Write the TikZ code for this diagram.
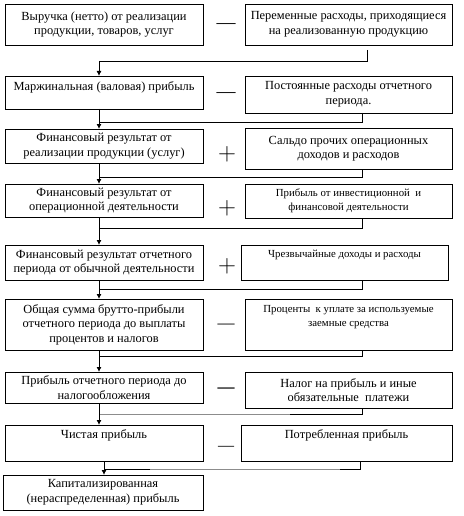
\documentclass[tikz,border=0pt]{standalone}
\usepackage{fontspec}
\setmainfont{Liberation Serif}
\usetikzlibrary{arrows.meta,calc}
\begin{document}
\begin{tikzpicture}[x=1pt,y=-1pt,
  box/.style={draw, line width=0.9pt, inner sep=0pt, outer sep=0pt, align=center,
    font=\fontsize{12.4}{14.5}\selectfont},
  small/.style={font=\fontsize{10.8}{13.5}\selectfont},
  lbox/.style={box, minimum width=198pt},
  conn/.style={line width=0.9pt},
  faint/.style={line width=0.9pt, black!45},
  arr/.style={conn, -{Latex[length=5pt,width=5pt]}},
  minus/.style={inner sep=0pt, font=\fontsize{19}{19}\selectfont},
  bminus/.style={inner sep=0pt, font=\fontsize{17}{17}\selectfont\bfseries},
  plus/.style={inner sep=0pt, font=\fontsize{27}{27}\selectfont}]
\useasboundingbox (0,0) rectangle (463,516);

% left column
\node[lbox, minimum height=41pt] (L1) at (104,24.5) {Выручка (нетто) от реализации\\продукции, товаров, услуг};
\node[lbox, minimum height=33pt] (L2) at (104,92.5) {Маржинальная (валовая) прибыль\\[-5pt]\strut};
\node[lbox, minimum height=34pt] (L3) at (104,146) {Финансовый результат от\\реализации продукции (услуг)};
\node[lbox, minimum height=33pt] (L4) at (104,200.5) {Финансовый результат от\\операционной деятельности};
\node[lbox, minimum height=35pt] (L5) at (104,262.5) {Финансовый результат отчетного\\периода от обычной деятельности};
\node[lbox, minimum height=51pt] (L6) at (104,324.5) {Общая сумма брутто-прибыли\\отчетного периода до выплаты\\процентов и налогов};
\node[lbox, minimum height=31pt] (L7) at (104,387.5) {Прибыль отчетного периода до\\налогообложения};
\node[lbox, minimum height=36pt] (L8) at (104,443) {Чистая прибыль\\\strut};
\node[box, minimum width=200pt, minimum height=35pt] (L9) at (103,492.5) {Капитализированная\\(нераспределенная) прибыль};

% right column
\node[box, minimum width=207pt, minimum height=41pt] (R1) at (348.5,24.5) {Переменные расходы, приходящиеся\\на реализованную продукцию};
\node[box, minimum width=207pt, minimum height=37pt] (R2) at (348.5,94.5) {Постоянные расходы отчетного\\периода.};
\node[box, minimum width=207pt, minimum height=41pt] (R3) at (348.5,148.5) {Сальдо прочих операционных\\доходов и расходов};
\node[box, small, minimum width=207pt, minimum height=34pt] (R4) at (348.5,201) {Прибыль от инвестиционной\ \ и\\финансовой деятельности};
\node[box, small, minimum width=207pt, minimum height=35pt] (R5) at (344.5,262.5) {Чрезвычайные доходы и расходы\\\strut};
\node[box, small, minimum width=207pt, minimum height=51pt] (R6) at (348.5,324.5) {Проценты\ \ к уплате за используемые\\заемные средства\\\strut};
\node[box, minimum width=207pt, minimum height=36pt] (R7) at (348.5,390) {Налог на прибыль и иные\\обязательные\ \ платежи};
\node[box, minimum width=211pt, minimum height=36pt] (R8) at (346.5,443) {Потребленная прибыль\\\strut};

% signs
\node[minus] (s1) at (226,26) {—};
\node[minus] (s2) at (226,95) {—};
\node[plus] (s3) at (227,154) {$+$};
\node[plus] (s4) at (227,208) {$+$};
\node[plus] (s5) at (227,266) {$+$};
\node[minus, font=\fontsize{17}{17}\selectfont] (s6) at (226,326) {—};
\node[bminus] (s7) at (226,390) {—};
\node[minus, font=\fontsize{16}{16}\selectfont] (s8) at (226,448) {—};

% connectors
\coordinate (h1) at (99,61);
\draw[conn] ($(R1.south)+(18.5,5)$) |- (h1);
\draw[arr] (h1) -- (L2.north -| h1);

\coordinate (h2) at (99,122);
\draw[conn] ($(R2.south)+(13.5,0)$) |- (h2);
\draw[arr] (L2.south -| h1) -- (L3.north -| h1);

\coordinate (h3) at (99,177);
\draw[conn] ($(R3.south)+(13.5,0)$) |- (h3);
\draw[arr] (L3.south -| h1) -- (L4.north -| h1);

\coordinate (h4) at (99,228);
\draw[conn] ($(R4.south)+(13.5,0)$) |- (h4);
\draw[arr] (L4.south -| h1) -- (L5.north -| h1);

\coordinate (h5) at (99,289);
\draw[conn] ($(R5.south)+(17.5,0)$) |- (h5);
\draw[arr] (L5.south -| h1) -- (L6.north -| h1);

\coordinate (h6) at (99,356);
\draw[conn] ($(R6.south)+(13.5,0)$) |- (h6);
\draw[arr] (L6.south -| h1) -- (L7.north -| h1);

\coordinate (h7) at (99,414);
\coordinate (m7) at (290,414);
\draw[conn] ($(R7.south)+(13.5,0)$) |- (m7);
\draw[faint] (m7) -- (h7);
\draw[arr] (L7.south -| h1) -- (L8.north -| h1);

\coordinate (h8) at (104,469);
\coordinate (m8) at (150,469);
\coordinate (n8) at (340,469);
\draw[conn] ($(R8.south)+(13.5,0)$) |- (n8);
\draw[faint] (n8) -- (m8);
\draw[conn] (m8) -- (h8);
\draw[arr] (L8.south) -- (L9.north -| L8.south);
\end{tikzpicture}
\end{document}
